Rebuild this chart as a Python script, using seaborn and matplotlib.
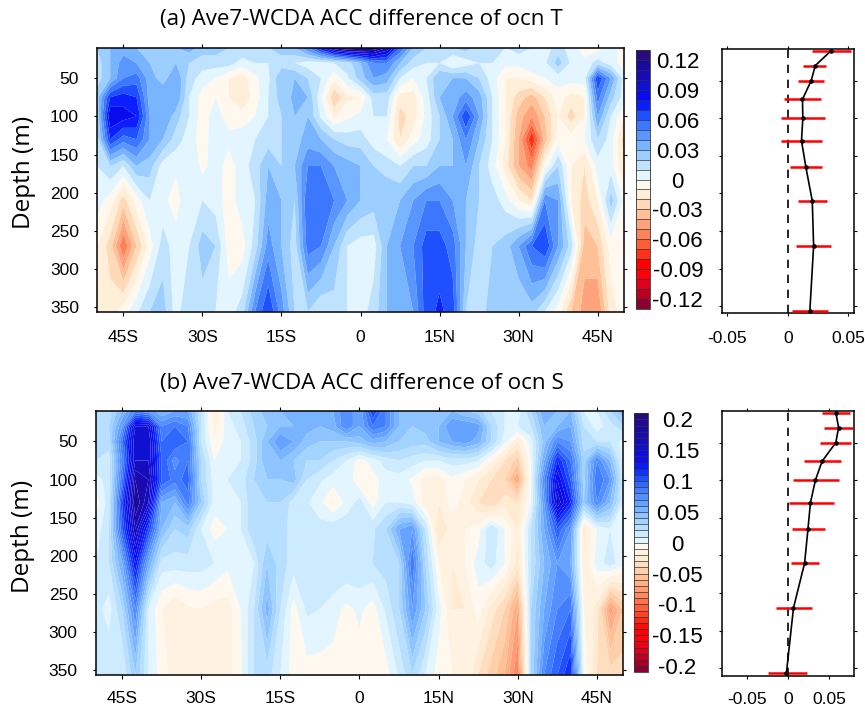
import numpy as np
import pandas as pd
import matplotlib
matplotlib.use("Agg")
import matplotlib.pyplot as plt
from matplotlib.colors import ListedColormap, BoundaryNorm, LinearSegmentedColormap
import seaborn as sns

lats = np.arange(-50, 50.1, 2.5)
depths = [10, 30, 50, 75, 100, 130, 165, 210, 270, 356]

T010 = [.02,.03,.035,.03,.03,.025,.03,.035,.025,.025,.02,.02,.02,.02,.025,.03,.05,.08,.11,.125,.125,.12,.10,.06,.03,.02,.015,.02,.025,.015,.015,.01,.015,.01,.005,.015,.005,-.005,-.005,.005,-.005]
T030 = [.015,.03,.045,.04,.03,.02,.03,.02,.015,.015,.015,.005,.01,.01,.015,.01,.005,.005,.01,.015,.03,.05,.05,.03,.015,.01,.01,-.001,.005,.01,.01,.003,.003,.008,.008,.025,.008,.003,.015,.005,-.005]
T050 = [.015,.03,.05,.055,.035,.025,.04,.015,.005,0,-.01,-.015,-.003,.008,.03,.03,.02,.01,-.008,.008,.025,.04,.035,.01,0,.01,.03,.03,.03,.02,.005,-.01,-.01,-.005,0,.005,.005,.005,.07,.04,.005]
T075 = [.025,.07,.075,.07,.035,.04,.04,.01,-.005,0,-.01,-.02,-.005,.01,.025,.032,.03,.002,-.03,-.012,-.01,.015,.015,-.015,-.015,.005,.03,.035,.045,.035,.01,-.01,-.025,-.035,-.02,-.005,-.015,-.01,.055,.025,.005]
T100 = [.02,.09,.085,.08,.04,.04,.025,.01,-.005,.005,-.005,-.005,0,.01,.02,.03,.03,.008,-.012,-.002,.003,.01,.01,-.025,-.015,.003,.02,.04,.07,.04,.01,-.01,-.035,-.05,-.03,-.01,-.025,-.01,.04,.01,-.01]
T130 = [.015,.07,.055,.06,.04,.03,.015,.005,-.005,.006,.003,.005,.01,.015,.02,.025,.035,.03,.02,.015,.015,.005,0,-.02,-.005,.005,.02,.03,.05,.03,.01,-.01,-.04,-.08,-.035,-.005,-.005,0,.02,.005,-.025]
T165 = [.01,.02,.01,.03,.025,.005,.002,.01,-.003,.005,-.005,.005,.015,.03,.02,.03,.05,.05,.04,.035,.03,.02,.015,.01,.02,.02,.03,.03,.04,.02,.005,-.015,-.04,-.055,-.005,.02,-.01,-.02,.005,.005,-.02]
T210 = [.005,-.005,-.025,-.005,.01,.003,-.005,.01,.01,.005,-.005,.005,.01,.035,.03,.02,.06,.06,.05,.04,.03,.025,.03,.03,.04,.05,.05,.04,.03,.02,.015,.005,-.01,-.02,.05,.04,-.01,-.025,-.01,.025,-.003]
T270 = [-.01,-.025,-.06,-.03,-.005,.015,.005,.01,.025,.02,-.005,-.005,.015,.045,.03,.015,.055,.05,.03,.01,.005,.005,.03,.04,.05,.065,.065,.055,.03,.015,.02,.025,.04,.06,.07,.04,.015,-.035,-.03,-.005,-.002]
T355 = [-.02,-.015,-.005,.008,.02,.025,.005,.02,.015,.01,.005,.015,.05,.07,.045,.02,.02,.01,.015,.01,.005,.015,.03,.035,.04,.066,.072,.066,.02,.015,.025,.025,.02,.025,.01,-.005,-.03,-.045,-.05,-.015,-.005]

S010 = [.025,.025,.05,.08,.07,.05,.06,.06,.02,-.02,.01,.02,.035,.045,.05,.055,.06,.055,.06,.08,.06,.11,.08,.05,.05,.05,.045,.05,.04,.035,.02,.01,.005,.03,.06,.05,.05,.01,.01,.03,.05]
S030 = [.025,.03,.07,.15,.15,.08,.09,.08,.02,-.015,.005,.015,.03,.04,.05,.05,.055,.05,.055,.08,.06,.09,.08,.05,.04,.045,.05,.07,.07,.065,.03,.01,.01,.02,.05,.05,.06,.02,.005,.015,.03]
S050 = [.03,.025,.09,.16,.16,.09,.1,.09,.02,-.01,.005,.01,.025,.05,.07,.06,.045,.04,.04,.04,.045,.055,.05,.04,.035,.035,.05,.06,.065,.055,.03,.005,-.02,.005,.045,.08,.07,.025,.02,.02,.005]
S075 = [.02,.015,.08,.16,.16,.1,.075,.09,.03,0,.007,.01,.025,.05,.05,.04,.03,.03,.02,.01,-.005,.005,.015,.02,.015,.01,.01,.015,.015,.01,-.01,-.03,-.045,0,.06,.12,.09,.035,.08,.05,.005]
S100 = [.005,.015,.09,.18,.17,.1,.085,.095,.03,.005,.01,.015,.03,.04,.04,.045,.02,.012,.005,.01,-.01,-.005,.005,.005,-.002,-.015,-.015,-.003,-.01,-.02,-.03,-.04,-.07,0,.08,.14,.1,.035,.09,.07,.01]
S130 = [-.005,.015,.11,.19,.16,.06,.05,.085,.04,.005,.005,.01,.03,.03,.03,.015,.012,.002,-.012,.003,.015,-.005,.01,.01,.005,-.015,-.02,-.005,-.015,-.03,-.04,-.025,-.03,0,.07,.16,.12,.04,.08,.05,.01]
S165 = [.003,.02,.1,.17,.11,.05,.03,.035,.01,-.005,0,.01,.03,.025,.025,.015,.015,.015,.018,.018,.018,.018,.03,.06,.07,.02,-.03,-.015,-.01,-.005,.02,0,-.02,.02,.06,.1,.07,-.025,0,.01,.01]
S210 = [.01,.02,.06,.13,.06,.015,.015,.015,.015,.01,.003,.005,.01,.04,.025,.015,.018,.02,.02,.02,.02,.02,.025,.03,.09,.03,-.01,-.02,-.01,.005,.015,0,-.025,.02,.05,.07,.06,-.02,.005,.015,.003]
S270 = [.015,.005,.03,.08,.01,-.01,-.02,-.012,-.01,-.015,-.015,0,.02,.055,.02,-.005,.012,.01,.005,-.003,.002,-.005,.012,.03,.07,.04,.005,-.02,-.02,-.005,-.025,-.04,-.07,.03,.06,.08,.09,-.01,-.025,-.075,-.05]
S355 = [.02,.02,.01,.04,.01,-.005,-.015,-.015,-.012,-.012,-.015,-.002,.02,.025,.01,-.005,-.005,-.005,-.005,-.005,-.005,-.005,-.005,.012,.03,.01,-.005,-.01,-.01,-.03,-.045,-.06,-.09,.03,.08,.1,.12,0,-.03,-.035,-.035]

prof_T = [.036,.0228,.0194,.0122,.0125,.0114,.015,.0203,.0214,.0183]
prof_T_lo = [.0197,.013,.0089,-.0028,-.0056,-.0056,.0019,.0081,.0067,.0036]
prof_T_hi = [.052,.032,.0303,.0275,.0306,.0286,.0283,.0325,.0361,.0331]
prof_S = [.0577,.061,.0577,.041,.033,.027,.024,.020,.0065,-.002]
prof_S_lo = [.0407,.0439,.039,.0187,.0057,.0008,.0045,.0033,-.015,-.0248]
prof_S_hi = [.0752,.078,.076,.0642,.061,.0549,.0443,.0378,.0285,.0224]

lat_ticks = [-45, -30, -15, 0, 15, 30, 45]
lat_labels = ["45S", "30S", "15S", "0", "15N", "30N", "45N"]
depth_ticks = [50, 100, 150, 200, 250, 300, 350]
cb_T_ticks = [.12, .09, .06, .03, 0, -.03, -.06, -.09, -.12]
cb_T_labels = ["0.12", "0.09", "0.06", "0.03", "0", "-0.03", "-0.06", "-0.09", "-0.12"]
cb_S_ticks = [.2, .15, .1, .05, 0, -.05, -.1, -.15, -.2]
cb_S_labels = ["0.2", "0.15", "0.1", "0.05", "0", "-0.05", "-0.1", "-0.15", "-0.2"]
warm = ["#8a0030", "#b80020", "#e0001c", "#ff0008", "#ff0000", "#ff3218", "#ff5e38", "#ff8258", "#ffa37c",
        "#ffc096", "#ffd9b8", "#ffeed8", "#fff8ef"]
cool = ["#e3f6ff", "#bfe3ff", "#9ccfff", "#78b4ff", "#5a96ff",
        "#3c78ff", "#1e50ff", "#0a1eff", "#0a0aee", "#1010d0", "#1a0ab4", "#1a0a9a", "#2a0a80"]

sns.set_theme(style="ticks")
HEAD = "Open Sans"
NUM = "Liberation Sans"
W, H = 865, 709
fig = plt.figure(figsize=(W / 100, H / 100), dpi=100, facecolor="white")


def axpx(l, t, r, b):
    return fig.add_axes([l / W, 1 - b / H, (r - l) / W, (b - t) / H])


def style_axes(ax):
    for s in ax.spines.values():
        s.set_linewidth(1.1)
        s.set_color("black")


def contour_panel(rect, rows, levels, cmap, cax_rect, ticks, labels, cb_pad, title, title_y, label_xy, xpad):
    ax = axpx(*rect)
    grid = np.clip(np.vstack(rows), levels[0] + 1e-4, levels[-1] - 1e-4)
    norm = BoundaryNorm(levels, cmap.N)
    cf = ax.contourf(lats, depths, grid, levels=levels, cmap=cmap, norm=norm, antialiased=True)
    ax.set_xlim(-50, 50)
    ax.set_ylim(356, 10)
    ax.set_xticks(lat_ticks, lat_labels, fontname=NUM, fontsize=12.5)
    ax.set_yticks(depth_ticks, [str(d) for d in depth_ticks], fontname=NUM, fontsize=12.5)
    ax.tick_params(axis="x", length=3, width=0.8, top=True, pad=xpad, color="black", labelcolor="black")
    ax.tick_params(axis="y", length=2, width=0.8, right=True, pad=11, color="black", labelcolor="black")
    style_axes(ax)
    cax = axpx(*cax_rect)
    cb = fig.colorbar(cf, cax=cax, drawedges=True, ticks=ticks)
    cb.minorticks_off()
    cb.dividers.set_color("#333333")
    cb.dividers.set_linewidth(0.5)
    cb.outline.set_linewidth(0.6)
    cb.outline.set_edgecolor("#333333")
    cb.ax.set_yticks(ticks, labels, ha="center", fontname=NUM, fontsize=16, color="black")
    cb.ax.tick_params(length=0, pad=cb_pad)
    fig.text(160 / W, 1 - title_y / H, title, ha="left", va="center", fontname=HEAD, fontsize=16.1, color="black")
    fig.text(label_xy[0] / W, 1 - label_xy[1] / H, "Depth (m)", rotation=90, ha="center", va="center",
             fontname=HEAD, fontsize=17.5, color="black")


def profile_panel(rect, values, lo, hi, xlim, ylim, xticks, xlabels, xpad):
    ax = axpx(*rect)
    frame = pd.DataFrame({"value": values, "depth": depths})
    ax.axvline(0, color="black", lw=1.2, dashes=(5, 4), zorder=1)
    sns.lineplot(data=frame, x="value", y="depth", sort=False, estimator=None, color="black", lw=1.2, ax=ax, zorder=2)
    ax.hlines(depths, lo, hi, color="#ff0000", lw=1.8, zorder=3)
    sns.scatterplot(data=frame, x="value", y="depth", color="black", s=11, linewidth=0, ax=ax, zorder=4)
    ax.set_xlim(*xlim)
    ax.set_ylim(*ylim)
    ax.set_xlabel("")
    ax.set_ylabel("")
    ax.set_xticks(xticks, xlabels, fontname=NUM, fontsize=12.5)
    ax.set_yticks(depth_ticks, [""] * len(depth_ticks))
    ax.tick_params(axis="x", length=2, width=0.8, top=True, pad=xpad, color="black", labelcolor="black")
    ax.tick_params(axis="y", length=2, width=0.8, right=True, color="black")
    style_axes(ax)


cmap_T = ListedColormap(warm + cool)
half_warm = LinearSegmentedColormap.from_list("w", warm, N=21)(np.linspace(0, 1, 21))
half_cool = LinearSegmentedColormap.from_list("c", cool, N=21)(np.linspace(0, 1, 21))
cmap_S = ListedColormap(np.vstack([half_warm, half_cool]))

contour_panel((97, 47.7, 624, 311.7), [T010, T030, T050, T075, T100, T130, T165, T210, T270, T355],
              np.round(np.arange(-.13, .1301, .01), 2), cmap_T, (636, 50, 650, 309),
              cb_T_ticks, cb_T_labels, 20, "(a) Ave7-WCDA ACC difference of ocn T", 20, (24, 172), 10)
contour_panel((95.7, 411, 623.3, 674.7), [S010, S030, S050, S075, S100, S130, S165, S210, S270, S355],
              np.round(np.arange(-.21, .2101, .01), 2), cmap_S, (634.3, 413.3, 648.3, 672.3),
              cb_S_ticks, cb_S_labels, 21, "(b) Ave7-WCDA ACC difference of ocn S", 383, (23, 536), 9)
profile_panel((722.3, 49, 854.3, 313), prof_T, prof_T_lo, prof_T_hi, (-.054, .055), (359, 8),
              [-.05, 0, .05], ["-0.05", "0", "0.05"], 11)
profile_panel((722.3, 411, 854.3, 675.7), prof_S, prof_S_lo, prof_S_hi, (-.0795, .08), (360, 8),
              [-.05, 0, .05], ["-0.05", "0", "0.05"], 10)

fig.savefig("out.png", dpi=100, facecolor="white")
